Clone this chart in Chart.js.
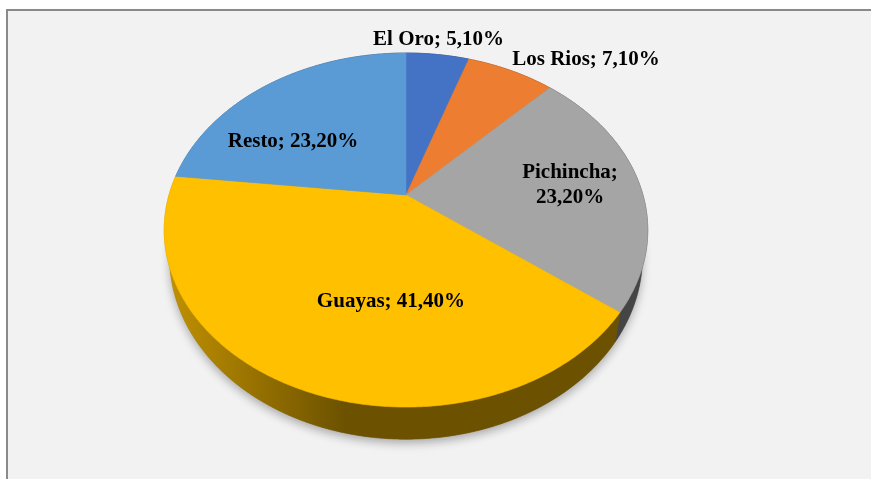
<!DOCTYPE html>
<html>
<head>
<meta charset="utf-8">
<script src="https://cdn.jsdelivr.net/npm/chart.js@4/dist/chart.umd.min.js"></script>
<style>
  html, body { margin: 0; padding: 0; background: #ffffff; }
  #wrap { position: relative; width: 871px; height: 479px; overflow: hidden; }
  #frame { position: absolute; left: 6px; top: 9px; width: 880px; height: 490px;
           border-left: 2px solid #8a8a8a; border-top: 2px solid #8a8a8a; background: #f2f2f2; }
  #chart { position: absolute; left: 0; top: 0; }
</style>
</head>
<body>
<div id="wrap">
  <div id="frame"></div>
  <canvas id="chart" width="871" height="479"></canvas>
</div>
<script>
// data
const regions = ["El Oro", "Los Rios", "Pichincha", "Guayas", "Resto"];
const shares = [5.1, 7.1, 23.2, 41.4, 23.2];
const sliceColors = ["#4472C4", "#ED7D31", "#A5A5A5", "#FFC000", "#5B9BD5"];

// label layout: baseline offsets from pie centre, in units of the radius
const labelOffsets = [[0.203, -0.94], [1.125, -0.81], [1.025, -0.105], [-0.094, 0.70], [-0.706, -0.30]];
const labelWrap = [false, false, true, false, false];

// 3D look: horizontal / vertical stretch, perspective tilt, rim depth
const SX = 1.481, SY = 1.063, TILT = 0.198, DEPTH = 0.161, BOTTOM_NARROW = 0.978;

function shade(hex, f) {
  const n = parseInt(hex.slice(1), 16);
  const r = Math.round(((n >> 16) & 255) * f);
  const g = Math.round(((n >> 8) & 255) * f);
  const b = Math.round((n & 255) * f);
  return `rgb(${r},${g},${b})`;
}

function fmt(v) {
  return v.toFixed(2).replace(".", ",") + "%";
}

const pie3d = {
  id: "pie3d",
  beforeDatasetsDraw(chart) {
    const arcs = chart.getDatasetMeta(0).data;
    const ctx = chart.ctx;
    const cx = arcs[0].x, cy = arcs[0].y, R = arcs[0].outerRadius;
    const A = R * SX, B = R * SY, D = R * DEPTH;

    // project an angle on the rim (dz 0 = top face, 1 = bottom of rim)
    const pt = (a, dz) => {
      const u = Math.cos(a), v = -Math.sin(a);
      const w = 1 + TILT * v;
      const sx = dz ? A * BOTTOM_NARROW : A;
      return [cx + sx * u / w, cy - B * v / w + D * dz / w];
    };
    const sample = (a0, a1) => {
      const out = [];
      const n = Math.max(2, Math.ceil((a1 - a0) / 0.01));
      for (let i = 0; i <= n; i++) out.push(a0 + (a1 - a0) * i / n);
      return out;
    };

    ctx.save();

    // soft shadow under the pie
    ctx.save();
    ctx.shadowColor = "rgba(0,0,0,0.3)";
    ctx.shadowBlur = 10;
    ctx.shadowOffsetY = 4;
    ctx.fillStyle = "#777";
    ctx.beginPath();
    sample(0, Math.PI * 2).forEach((a, i) => {
      const p = pt(a, 1);
      i ? ctx.lineTo(p[0], p[1]) : ctx.moveTo(p[0], p[1]);
    });
    ctx.closePath();
    ctx.fill();
    ctx.restore();

    // rims
    arcs.forEach((arc, i) => {
      const angs = sample(arc.startAngle, arc.endAngle);
      const grad = ctx.createLinearGradient(cx - A * 1.02, 0, cx - 0.25 * A, 0);
      grad.addColorStop(0, shade(sliceColors[i], 0.76));
      grad.addColorStop(1, shade(sliceColors[i], 0.42));
      ctx.fillStyle = grad;
      ctx.strokeStyle = grad;
      ctx.lineWidth = 0.6;
      ctx.beginPath();
      angs.forEach((a, j) => {
        const p = pt(a, 0);
        j ? ctx.lineTo(p[0], p[1]) : ctx.moveTo(p[0], p[1]);
      });
      angs.slice().reverse().forEach(a => {
        const p = pt(a, 1);
        ctx.lineTo(p[0], p[1]);
      });
      ctx.closePath();
      ctx.fill();
      ctx.stroke();
    });

    // top faces
    arcs.forEach((arc, i) => {
      ctx.fillStyle = sliceColors[i];
      ctx.strokeStyle = sliceColors[i];
      ctx.lineWidth = 0.6;
      ctx.beginPath();
      ctx.moveTo(cx, cy);
      sample(arc.startAngle, arc.endAngle).forEach(a => {
        const p = pt(a, 0);
        ctx.lineTo(p[0], p[1]);
      });
      ctx.closePath();
      ctx.fill();
      ctx.stroke();
    });

    ctx.restore();
    return false;
  },
  afterDraw(chart) {
    const arcs = chart.getDatasetMeta(0).data;
    const ctx = chart.ctx;
    const cx = arcs[0].x, cy = arcs[0].y, R = arcs[0].outerRadius;
    ctx.save();
    ctx.font = "bold 21px 'Liberation Serif', 'Times New Roman', serif";
    ctx.fillStyle = "#000000";
    ctx.textAlign = "center";
    ctx.textBaseline = "alphabetic";
    regions.forEach((name, i) => {
      const x = cx + labelOffsets[i][0] * R;
      const y = cy + labelOffsets[i][1] * R;
      if (labelWrap[i]) {
        ctx.fillText(name + ";", x, y);
        ctx.fillText(fmt(shares[i]), x, y + 25);
      } else {
        ctx.fillText(name + "; " + fmt(shares[i]), x, y);
      }
    });
    ctx.restore();
  }
};

new Chart(document.getElementById("chart").getContext("2d"), {
  type: "pie",
  data: {
    labels: regions,
    datasets: [{
      data: shares,
      backgroundColor: sliceColors,
      borderWidth: 0,
      hoverOffset: 0
    }]
  },
  options: {
    responsive: false,
    animation: false,
    events: [],
    layout: { padding: { left: 246, right: 305, top: 35, bottom: 124 } },
    plugins: {
      legend: { display: false },
      tooltip: { enabled: false }
    }
  },
  plugins: [pie3d]
});
</script>
</body>
</html>
